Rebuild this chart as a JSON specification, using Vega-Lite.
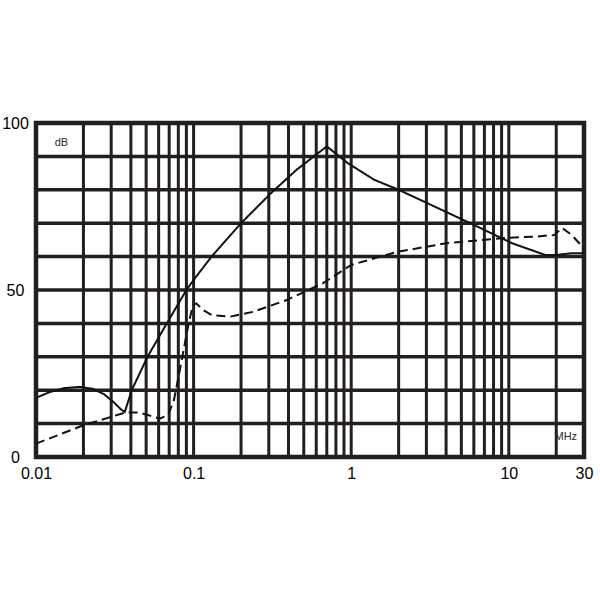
{
  "$schema": "https://vega.github.io/schema/vega-lite/v6.json",
  "width": 548,
  "height": 334,
  "autosize": {"type": "none"},
  "padding": {"left": 36, "top": 123, "right": 16, "bottom": 143},
  "background": "white",
  "config": {
    "view": {"stroke": "#231f20", "strokeWidth": 4.5},
    "font": "Liberation Sans"
  },
  "datasets": {
    "vgrid": [
      {"f": 0.02}, {"f": 0.03}, {"f": 0.04}, {"f": 0.05}, {"f": 0.06}, {"f": 0.07}, {"f": 0.08}, {"f": 0.09},
      {"f": 0.1}, {"f": 0.2}, {"f": 0.3}, {"f": 0.4}, {"f": 0.5}, {"f": 0.6}, {"f": 0.7}, {"f": 0.8}, {"f": 0.9},
      {"f": 1}, {"f": 2}, {"f": 3}, {"f": 4}, {"f": 5}, {"f": 6}, {"f": 7}, {"f": 8}, {"f": 9},
      {"f": 10}, {"f": 20}
    ],
    "hgrid": [
      {"db": 10}, {"db": 20}, {"db": 30}, {"db": 40}, {"db": 50}, {"db": 60}, {"db": 70}, {"db": 80}, {"db": 90}
    ],
    "curves": [
      {"s": "solid", "f": 0.01, "db": 17.7},
      {"s": "solid", "f": 0.012, "db": 19.3},
      {"s": "solid", "f": 0.015, "db": 20.6},
      {"s": "solid", "f": 0.019, "db": 21},
      {"s": "solid", "f": 0.023, "db": 20.4},
      {"s": "solid", "f": 0.027, "db": 18.8},
      {"s": "solid", "f": 0.031, "db": 16.5},
      {"s": "solid", "f": 0.0345, "db": 14.3},
      {"s": "solid", "f": 0.0366, "db": 13.5},
      {"s": "solid", "f": 0.0405, "db": 20},
      {"s": "solid", "f": 0.051, "db": 30},
      {"s": "solid", "f": 0.0676, "db": 40},
      {"s": "solid", "f": 0.09, "db": 50},
      {"s": "solid", "f": 0.1, "db": 53},
      {"s": "solid", "f": 0.13, "db": 60},
      {"s": "solid", "f": 0.2, "db": 70},
      {"s": "solid", "f": 0.31, "db": 79},
      {"s": "solid", "f": 0.45, "db": 86},
      {"s": "solid", "f": 0.58, "db": 90},
      {"s": "solid", "f": 0.7, "db": 93},
      {"s": "solid", "f": 0.95, "db": 88},
      {"s": "solid", "f": 1.4, "db": 83},
      {"s": "solid", "f": 2.0, "db": 80},
      {"s": "solid", "f": 6.0, "db": 69.5},
      {"s": "solid", "f": 10.5, "db": 64},
      {"s": "solid", "f": 17, "db": 60.5},
      {"s": "solid", "f": 20, "db": 60.5},
      {"s": "solid", "f": 25, "db": 61},
      {"s": "solid", "f": 30, "db": 61},
      {"s": "dashed", "f": 0.01, "db": 4},
      {"s": "dashed", "f": 0.02, "db": 9.5},
      {"s": "dashed", "f": 0.03, "db": 12},
      {"s": "dashed", "f": 0.0366, "db": 13.3},
      {"s": "dashed", "f": 0.045, "db": 13.3},
      {"s": "dashed", "f": 0.051, "db": 12.6},
      {"s": "dashed", "f": 0.061, "db": 11.5},
      {"s": "dashed", "f": 0.069, "db": 12.6},
      {"s": "dashed", "f": 0.075, "db": 17},
      {"s": "dashed", "f": 0.081, "db": 25},
      {"s": "dashed", "f": 0.088, "db": 34},
      {"s": "dashed", "f": 0.093, "db": 40},
      {"s": "dashed", "f": 0.099, "db": 45.5},
      {"s": "dashed", "f": 0.104, "db": 46},
      {"s": "dashed", "f": 0.115, "db": 44},
      {"s": "dashed", "f": 0.13, "db": 42.5},
      {"s": "dashed", "f": 0.17, "db": 42},
      {"s": "dashed", "f": 0.24, "db": 43.5},
      {"s": "dashed", "f": 0.39, "db": 47},
      {"s": "dashed", "f": 0.66, "db": 52},
      {"s": "dashed", "f": 1.0, "db": 57.5},
      {"s": "dashed", "f": 1.95, "db": 61.4},
      {"s": "dashed", "f": 4.0, "db": 64},
      {"s": "dashed", "f": 9.6, "db": 65.6},
      {"s": "dashed", "f": 15, "db": 66},
      {"s": "dashed", "f": 19.5, "db": 66.5},
      {"s": "dashed", "f": 21.8, "db": 68.6},
      {"s": "dashed", "f": 25, "db": 66.5},
      {"s": "dashed", "f": 28, "db": 64},
      {"s": "dashed", "f": 30, "db": 62}
    ],
    "labels": [
      {"t": "dB", "f": 0.0145, "db": 94},
      {"t": "MHz", "f": 23, "db": 6}
    ]
  },
  "layer": [
    {
      "data": {"name": "vgrid"},
      "mark": {"type": "rule", "color": "#231f20", "strokeWidth": 3},
      "encoding": {
        "x": {
          "field": "f", "type": "quantitative",
          "scale": {"type": "log", "domain": [0.01, 30], "nice": false},
          "axis": {
            "values": [0.01, 0.1, 1, 10, 30],
            "format": "~g",
            "grid": false, "ticks": false, "domain": false,
            "labelFontSize": 16, "labelColor": "#000", "labelPadding": 8,
            "labelFlush": false, "labelFont": "Liberation Sans",
            "title": null
          }
        }
      }
    },
    {
      "data": {"name": "hgrid"},
      "mark": {"type": "rule", "color": "#231f20", "strokeWidth": 3.5},
      "encoding": {
        "y": {
          "field": "db", "type": "quantitative",
          "scale": {"domain": [0, 100], "nice": false},
          "axis": {
            "values": [0, 50, 100],
            "grid": false, "ticks": false, "domain": false,
            "labelFontSize": 16, "labelColor": "#000", "labelPadding": 21,
            "labelAlign": "center", "labelBaseline": "middle",
            "labelFlush": false, "labelFont": "Liberation Sans",
            "title": null
          }
        }
      }
    },
    {
      "data": {"name": "curves"},
      "mark": {"type": "line", "color": "#111", "strokeWidth": 2},
      "encoding": {
        "x": {"field": "f", "type": "quantitative"},
        "y": {"field": "db", "type": "quantitative"},
        "detail": {"field": "s"},
        "strokeDash": {
          "field": "s", "type": "nominal",
          "scale": {"domain": ["solid", "dashed"], "range": [[1, 0], [9, 5]]},
          "legend": null
        }
      }
    },
    {
      "data": {"name": "labels"},
      "mark": {"type": "text", "fontSize": 11, "color": "#2a2a2a", "font": "Liberation Sans"},
      "encoding": {
        "x": {"field": "f", "type": "quantitative"},
        "y": {"field": "db", "type": "quantitative"},
        "text": {"field": "t"}
      }
    }
  ]
}
